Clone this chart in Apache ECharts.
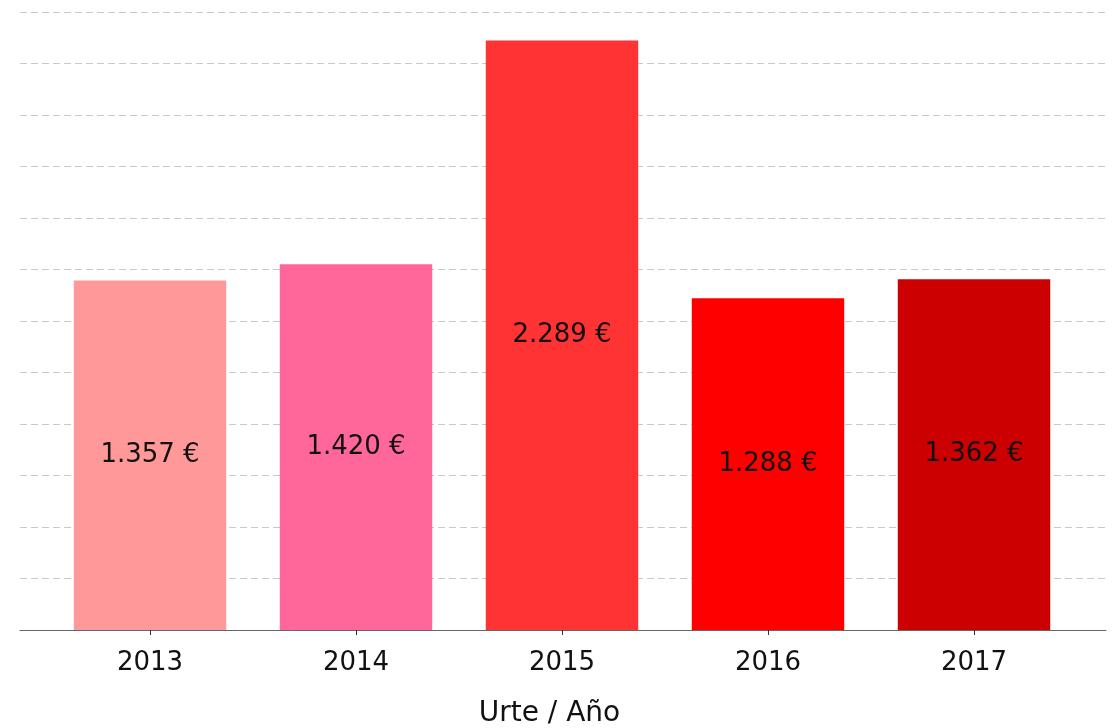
<!DOCTYPE html>
<html>
<head>
<meta charset="utf-8">
<script src="https://cdn.jsdelivr.net/npm/echarts@6/dist/echarts.min.js"></script>
<style>
  html, body { margin: 0; padding: 0; background: #fff; }
  #chart { width: 1115px; height: 728px; }
</style>
</head>
<body>
<div id="chart"></div>
<script>
// data
const years = ['2013', '2014', '2015', '2016', '2017']
const amounts = [1357, 1420, 2289, 1288, 1362]
const barColors = ['#FF9999', '#FF6699', '#FF3333', '#FF0000', '#CC0000']
const axisTitle = 'Urte / Año'

const fontFamily = "'DejaVu Sans', Verdana, sans-serif"

function euroFormat(v) {
  return String(v).replace(/\B(?=(\d{3})+(?!\d))/g, '.') + ' €'
}

var myChart = echarts.init(document.getElementById('chart'))

var option = {
  animation: false,
  backgroundColor: '#fff',
  grid: [
    // background grid: dashed lines and base axis across the full width
    { left: 20, right: 9, top: 12, bottom: 98, outerBoundsMode: 'none' },
    // bars
    { left: 47, right: 38, top: 12, bottom: 98, outerBoundsMode: 'none' }
  ],
  xAxis: [
    {
      gridIndex: 0,
      type: 'value',
      min: 0,
      max: 1,
      axisLine: { show: true, onZero: false, lineStyle: { color: '#666', width: 1 } },
      axisTick: { show: false },
      axisLabel: { show: false },
      splitLine: { show: false }
    },
    {
      gridIndex: 1,
      type: 'category',
      data: years,
      axisLine: { show: false },
      axisTick: { show: true, alignWithLabel: true, length: 5, lineStyle: { color: '#333' } },
      axisLabel: { color: '#111', fontSize: 26, fontFamily: fontFamily, margin: 20 },
      name: axisTitle,
      nameLocation: 'middle',
      nameGap: 70,
      nameTextStyle: { color: '#111', fontSize: 28, fontFamily: fontFamily, padding: [0, 25, 0, 0] }
    }
  ],
  yAxis: [
    {
      gridIndex: 0,
      type: 'value',
      min: 0,
      max: 2400,
      interval: 200,
      axisLine: { show: false },
      axisTick: { show: false },
      axisLabel: { show: false },
      splitLine: { show: true, lineStyle: { color: '#c8c8c8', type: [7, 4], width: 1 } }
    },
    {
      gridIndex: 1,
      type: 'value',
      min: 0,
      max: 2400,
      interval: 200,
      axisLine: { show: false },
      axisTick: { show: false },
      axisLabel: { show: false },
      splitLine: { show: false }
    }
  ],
  series: [
    {
      type: 'bar',
      xAxisIndex: 1,
      yAxisIndex: 1,
      barWidth: '74%',
      data: amounts.map((v, i) => ({ value: v, itemStyle: { color: barColors[i] } })),
      label: {
        show: true,
        position: 'inside',
        color: '#111',
        fontSize: 26,
        fontFamily: fontFamily,
        formatter: (p) => euroFormat(p.value)
      },
      emphasis: { disabled: true }
    }
  ]
}

myChart.setOption(option)
</script>
</body>
</html>
